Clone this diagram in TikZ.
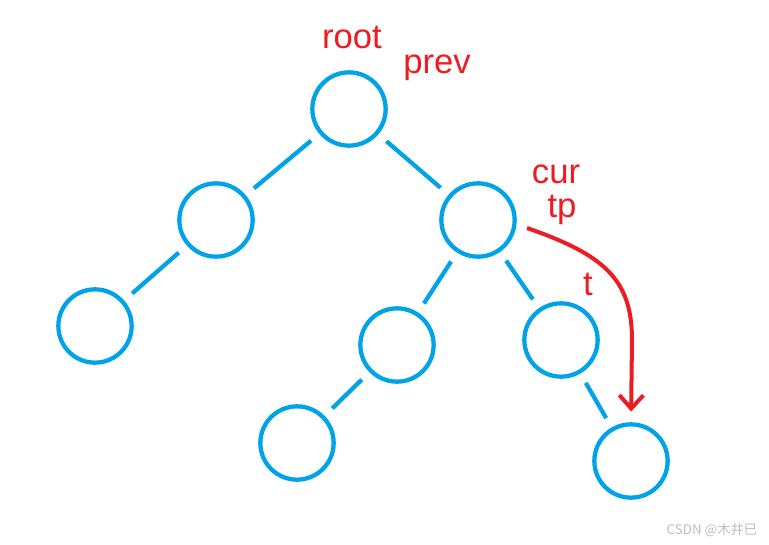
\documentclass[tikz,border=0pt]{standalone}
\usepackage{fontspec}
\setmainfont{Liberation Sans}
\newfontfamily\cjk{Noto Sans CJK SC}
\usetikzlibrary{arrows.meta}
\definecolor{treeblue}{RGB}{0,162,232}
\definecolor{markred}{RGB}{237,28,36}
\definecolor{markgray}{RGB}{190,190,190}
\tikzset{tnode/.style = {draw = treeblue, circle, line width = 3.2pt, minimum size = 55pt, inner sep = 0},
  tedge/.style = {draw = treeblue, line width = 3.2pt, shorten < = 8pt, shorten > = 8pt},
  lbl/.style = {text = markred, anchor = base, inner sep = 0, font = \fontsize{26}{31}\selectfont}}

\begin{document}
\begin{tikzpicture}[x = 0.75pt, y = -0.75pt]
      \useasboundingbox (0, 0) rectangle (769, 544);
      \node [tnode] (root) at (349, 109) {};
      \node [tnode] (l) at (216, 220) {};
      \node [tnode] (r) at (478, 220) {};
      \node [tnode] (ll) at (95, 326) {};
      \node [tnode] (rl) at (397, 345) {};
      \node [tnode] (rr) at (561, 340) {};
      \node [tnode] (rll) at (297, 443) {};
      \node [tnode] (rrr) at (631, 461) {};
      \draw [tedge] (root) -- (l);
      \draw [tedge] (root) -- (r);
      \draw [tedge] (l) -- (ll);
      \draw [tedge] (r) -- (rl);
      \draw [tedge] (r) -- (rr);
      \draw [tedge] (rl) -- (rll);
      \draw [tedge] (rr) -- (rrr);
      \node [lbl] (rootlbl) at (352, 48) {root};
      \node [lbl] (prevlbl) at (437, 73) {prev};
      \node [lbl] (curlbl) at (556, 183) {cur};
      \node [lbl] (tplbl) at (562, 217) {tp};
      \node [lbl] (tlbl) at (588, 295) {t};
      \coordinate (curstart) at (527, 228);
      \draw [markred, line width = 3pt, shorten > = 8pt, -{Straight Barb[length = 10pt, width = 18pt]}] (curstart) .. controls (605, 255) and (632, 280) .. (632, 340) -- (rrr.north);
      \node [text = markgray, font = \cjk\fontsize{10}{12}\selectfont] (mark) at (712, 530) {CSDN @木井巳};
    \end{tikzpicture}
\end{document}
